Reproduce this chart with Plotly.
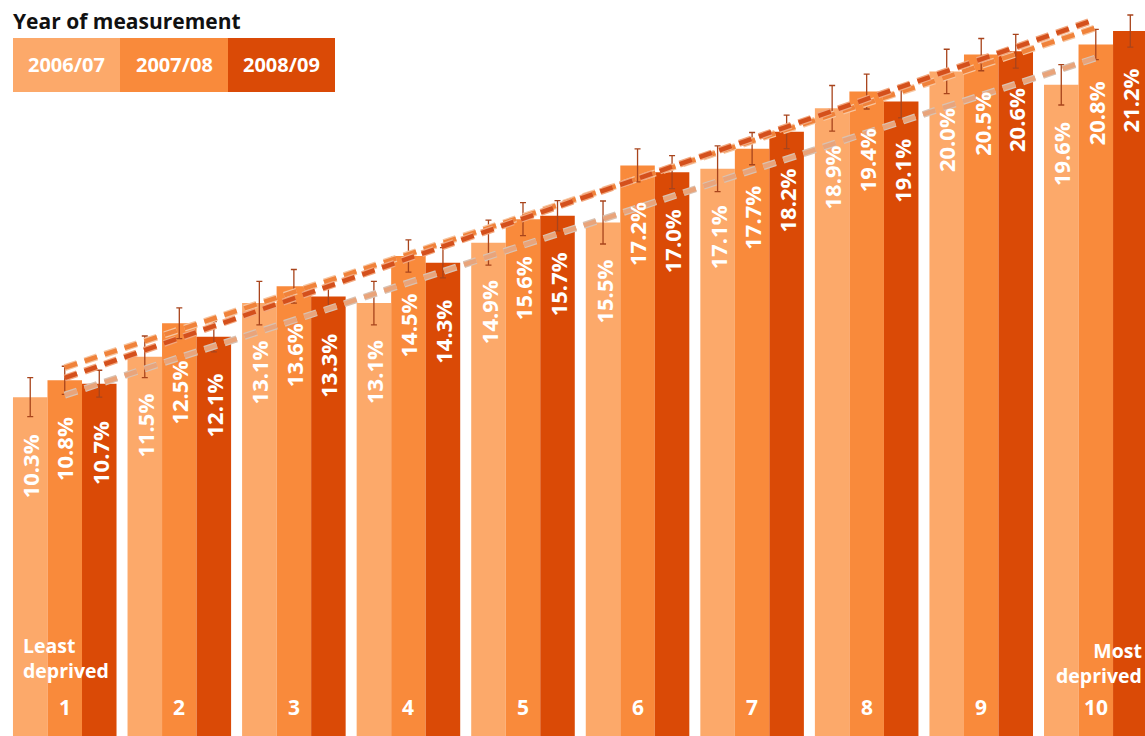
import plotly.graph_objects as go

# ---------------- data ----------------
deciles = ["1", "2", "3", "4", "5", "6", "7", "8", "9", "10"]
years = ["2006/07", "2007/08", "2008/09"]

v_2006 = [10.3, 11.5, 13.1, 13.1, 14.9, 15.5, 17.1, 18.9, 20.0, 19.6]
v_2007 = [10.8, 12.5, 13.6, 14.5, 15.6, 17.2, 17.7, 19.4, 20.5, 20.8]
v_2008 = [10.7, 12.1, 13.3, 14.3, 15.7, 17.0, 18.2, 19.1, 20.6, 21.2]

err_2006 = [0.58, 0.62, 0.65, 0.65, 0.67, 0.64, 0.68, 0.68, 0.66, 0.60]
err_2007 = [0.42, 0.46, 0.50, 0.48, 0.49, 0.49, 0.48, 0.52, 0.48, 0.45]
err_2008 = [0.40, 0.45, 0.46, 0.45, 0.45, 0.49, 0.50, 0.48, 0.50, 0.48]

# trend lines (start at decile 1, end at decile 10)
trend_start = [10.36, 11.18, 10.87]
trend_end = [20.40, 21.30, 21.55]

# ---------------- style ----------------
bar_colors = ["#FCA96A", "#F98A3B", "#DA4A06"]
trend_colors = ["#E9A47A", "#F0823A", "#D4501C"]
trend_under = ["#D9C2B2", "#F6C5A0", "#F2A77E"]
err_color = "#A8441C"
FONT = "Open Sans"

W, H = 1145, 736
bargap = 0.096
bw = (1 - bargap) / 3
xs = list(range(len(deciles)))

series = [v_2006, v_2007, v_2008]
errs = [err_2006, err_2007, err_2008]

fig = go.Figure()
for k in range(3):
    fig.add_trace(go.Bar(
        x=xs, y=series[k], name=years[k],
        marker=dict(color=bar_colors[k], line=dict(width=0)),
        error_y=dict(type="data", array=errs[k], visible=True,
                     color=err_color, thickness=1.3, width=3),
        showlegend=False, hoverinfo="skip",
    ))

for k in range(3):
    for col, wdt in ((trend_under[k], 7), (trend_colors[k], 4.5)):
        fig.add_trace(go.Scatter(
            x=[xs[0], xs[-1]], y=[trend_start[k], trend_end[k]],
            mode="lines", line=dict(color=col, width=wdt, dash="13px,8px"),
            showlegend=False, hoverinfo="skip",
        ))

annotations = []
# bar value labels
for k in range(3):
    for i, v in enumerate(series[k]):
        annotations.append(dict(
            x=xs[i] + (k - 1) * bw, y=v, xref="x", yref="y",
            text=f"{v:.1f}%", textangle=-90, showarrow=False,
            yanchor="top", xanchor="center", yshift=-35,
            font=dict(family=FONT, size=22, color="white", weight="bold"),
        ))

# decile numbers
for i, d in enumerate(deciles):
    annotations.append(dict(
        x=xs[i], y=1 - 707 / H, xref="x", yref="paper",
        text=d, showarrow=False, xanchor="center", yanchor="middle",
        font=dict(family=FONT, size=21, color="white", weight="bold"),
    ))

annotations.append(dict(
    x=21 / W, y=1 - 657.5 / H, xref="paper", yref="paper",
    text="Least<br>deprived", showarrow=False, align="left",
    xanchor="left", yanchor="middle",
    font=dict(family=FONT, size=19.5, color="white", weight="bold"),
))
annotations.append(dict(
    x=1144 / W, y=1 - 663 / H, xref="paper", yref="paper",
    text="Most<br>deprived", showarrow=False, align="right",
    xanchor="right", yanchor="middle",
    font=dict(family=FONT, size=19.5, color="white", weight="bold"),
))

# legend
annotations.append(dict(
    x=11 / W, y=1 - 21 / H, xref="paper", yref="paper",
    text="Year of measurement", showarrow=False,
    xanchor="left", yanchor="middle",
    font=dict(family=FONT, size=21, color="#111111", weight="bold"),
))
shapes = []
box_x = [13, 120, 228, 335]
for k in range(3):
    shapes.append(dict(
        type="rect", xref="paper", yref="paper",
        x0=box_x[k] / W, x1=box_x[k + 1] / W,
        y0=1 - 92 / H, y1=1 - 38 / H,
        fillcolor=bar_colors[k], line=dict(width=0), layer="above",
    ))
    annotations.append(dict(
        x=(box_x[k] + box_x[k + 1]) / 2 / W, y=1 - 65 / H,
        xref="paper", yref="paper", text=years[k], showarrow=False,
        xanchor="center", yanchor="middle",
        font=dict(family=FONT, size=20, color="white", weight="bold"),
    ))

px_per = 33.58
zero_px = 743
fig.update_layout(
    width=W, height=H,
    margin=dict(l=0, r=0, t=0, b=0),
    paper_bgcolor="white", plot_bgcolor="white",
    barmode="group", bargap=bargap, bargroupgap=0,
    xaxis=dict(range=[-64.75 / 114.56, (W - 64.75) / 114.56],
               visible=False, fixedrange=True),
    yaxis=dict(range=[(zero_px - H) / px_per, zero_px / px_per],
               visible=False, fixedrange=True),
    annotations=annotations, shapes=shapes,
    showlegend=False,
)

fig.write_html(
    "out.html",
    config={"displayModeBar": False},
    post_script="document.body.style.margin='0';document.body.style.overflow='hidden';",
)
